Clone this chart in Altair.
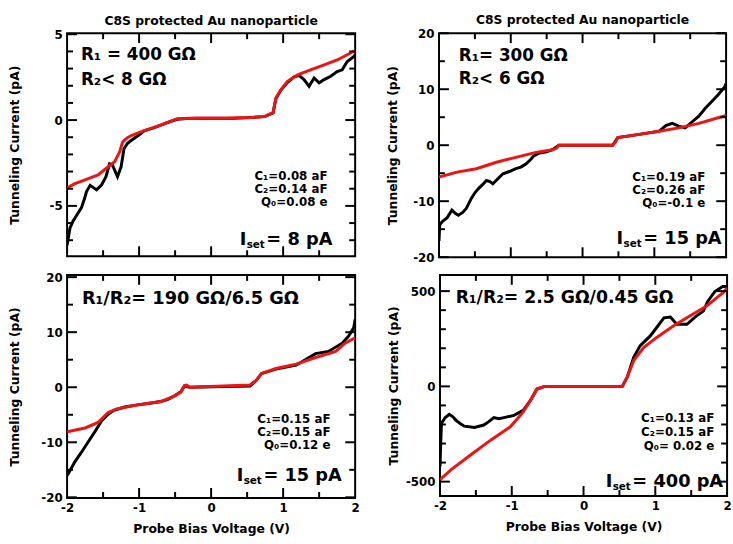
import altair as alt
import pandas as pd

TITLE = "C8S protected Au nanoparticle"
Y_TITLE = "Tunneling Current (pA)"
X_TITLE = "Probe Bias Voltage (V)"
X_LABELS = [-2, -1, 0, 1, 2]
X_MINOR = [-1.5, -0.5, 0.5, 1.5]

# ---------------- panel 1 ----------------
p1_black_v = [-2.00, -1.98, -1.96, -1.92, -1.86, -1.80, -1.76, -1.73, -1.68, -1.63, -1.59, -1.52, -1.46,
              -1.41, -1.37, -1.33, -1.30, -1.25, -1.21, -1.16, -1.11, -0.98, -0.93, -0.80, -0.70, -0.58,
              -0.47, -0.30, 0.00, 0.30, 0.56, 0.74, 0.86, 0.90, 0.97, 1.06, 1.15, 1.22, 1.29, 1.36, 1.43,
              1.50, 1.57, 1.66, 1.75, 1.82, 1.89, 1.98, 2.00]
p1_black_i = [-7.3, -6.8, -6.3, -5.9, -5.5, -5.1, -4.6, -4.16, -3.8, -3.95, -4.06, -3.77, -3.3,
              -2.55, -2.62, -3.0, -3.3, -2.72, -1.67, -1.35, -1.19, -0.8, -0.63, -0.45, -0.3, -0.1,
              0.05, 0.1, 0.1, 0.1, 0.15, 0.2, 0.42, 1.25, 1.75, 2.2, 2.5, 2.6, 2.36, 1.97, 2.45,
              2.17, 2.36, 2.55, 2.83, 2.93, 3.41, 3.7, 3.8]
p1_red_v = [-2.00, -1.90, -1.75, -1.57, -1.43, -1.34, -1.30, -1.27, -1.23, -1.17, -1.11, -0.93, -0.70,
            -0.55, -0.47, -0.20, 0.20, 0.56, 0.74, 0.86, 0.90, 0.97, 1.06, 1.20, 1.38, 1.57, 1.75,
            1.93, 2.00]
p1_red_i = [-3.95, -3.72, -3.49, -3.2, -2.72, -2.43, -2.1, -1.86, -1.28, -1.05, -0.9, -0.61, -0.29,
            -0.05, 0.08, 0.12, 0.12, 0.15, 0.21, 0.44, 1.3, 1.78, 2.26, 2.64, 2.93, 3.22, 3.5,
            3.89, 4.05]
p1_y_labels = [-5, 0, 5]
p1_y_minor = [-7, -6, -4, -3, -2, -1, 1, 2, 3, 4]
p1_text = ["R\u2081 = 400 G\u03a9", "R\u2082< 8 G\u03a9"]
p1_caps = ["C\u2081=0.08 aF", "C\u2082=0.14 aF", "Q\u2080=0.08 e"]
p1_iset = "= 8 pA"

# ---------------- panel 2 ----------------
p2_black_v = [-2.00, -1.99, -1.95, -1.89, -1.82, -1.77, -1.73, -1.67, -1.62, -1.55, -1.50, -1.45, -1.39,
              -1.34, -1.29, -1.25, -1.18, -1.11, -1.02, -0.93, -0.86, -0.79, -0.72, -0.68, -0.60, -0.50,
              -0.42, -0.33, 0.00, 0.42, 0.49, 0.79, 1.07, 1.16, 1.25, 1.34, 1.43, 1.52, 1.62, 1.71,
              1.80, 1.89, 1.98, 2.00]
p2_black_i = [-17.1, -14.2, -13.6, -13.0, -11.6, -12.2, -12.5, -12.0, -11.3, -9.5, -8.5, -7.75, -7.0,
              -6.3, -6.5, -6.9, -6.0, -5.1, -4.7, -4.2, -3.9, -3.35, -2.5, -1.9, -1.4, -1.2,
              -0.8, 0.0, 0.0, 0.0, 1.35, 1.94, 2.5, 3.5, 3.9, 3.4, 3.1, 4.1, 5.2, 6.6,
              7.8, 9.0, 10.4, 11.0]
p2_red_v = [-2.00, -1.75, -1.48, -1.20, -0.93, -0.65, -0.42, -0.36, -0.33, 0.42, 0.46, 0.49, 0.79,
            1.07, 1.34, 1.62, 1.89, 2.00]
p2_red_i = [-5.7, -4.8, -4.2, -3.05, -2.17, -1.29, -0.82, -0.5, 0.0, 0.0, 0.6, 1.35, 1.94,
            2.5, 3.1, 3.9, 4.9, 5.3]
p2_y_labels = [-20, -10, 0, 10, 20]
p2_y_minor = [-15, -5, 5, 15]
p2_text = ["R\u2081= 300 G\u03a9", "R\u2082< 6 G\u03a9"]
p2_caps = ["C\u2081=0.19 aF", "C\u2082=0.26 aF", "Q\u2080=-0.1 e"]
p2_iset = "= 15 pA"

# ---------------- panel 3 ----------------
p3_black_v = [-2.00, -1.98, -1.89, -1.80, -1.71, -1.62, -1.52, -1.43, -1.35, -1.20, -1.02, -0.85, -0.70,
              -0.60, -0.50, -0.42, -0.37, -0.30, 0.54, 0.63, 0.70, 0.90, 1.18, 1.45, 1.63, 1.82,
              1.91, 1.98, 2.00]
p3_black_i = [-16.0, -15.6, -13.5, -11.8, -10.0, -8.2, -6.1, -4.9, -4.2, -3.6, -3.2, -2.9, -2.6,
              -2.2, -1.5, -0.8, 0.2, 0.0, 0.2, 1.3, 2.5, 3.3, 4.0, 6.1, 6.5, 8.0,
              9.3, 10.8, 12.3]
p3_red_v = [-2.00, -1.75, -1.57, -1.43, -1.30, -1.02, -0.70, -0.51, -0.42, -0.37, -0.34, -0.30, 0.54,
            0.63, 0.70, 0.90, 1.18, 1.45, 1.73, 1.86, 2.00]
p3_red_i = [-8.1, -7.4, -6.4, -4.6, -3.9, -3.2, -2.6, -1.6, -0.9, 0.3, 0.4, 0.0, 0.4,
            1.3, 2.5, 3.4, 4.2, 5.4, 6.5, 8.0, 9.0]
p3_y_labels = [-20, -10, 0, 10, 20]
p3_y_minor = [-15, -5, 5, 15]
p3_text = ["R\u2081/R\u2082= 190 G\u03a9/6.5 G\u03a9"]
p3_caps = ["C\u2081=0.15 aF", "C\u2082=0.15 aF", "Q\u2080=0.12 e"]
p3_iset = "= 15 pA"

# ---------------- panel 4 ----------------
p4_black_v = [-2.00, -1.99, -1.98, -1.93, -1.87, -1.82, -1.78, -1.72, -1.66, -1.52, -1.39, -1.32, -1.25,
              -1.18, -1.11, -0.97, -0.84, -0.74, -0.65, -0.54, 0.54, 0.61, 0.70, 0.79, 0.93, 1.02,
              1.12, 1.21, 1.30, 1.44, 1.57, 1.67, 1.73, 1.83, 1.94, 2.00]
p4_black_i = [-420, -300, -195, -165, -147, -160, -177, -195, -209, -216, -203, -185, -164,
              -170, -164, -152, -126, -74, -14, 0, 0, 50, 154, 214, 265, 309,
              360, 364, 326, 326, 369, 395, 446, 498, 524, 524]
p4_red_v = [-2.00, -1.84, -1.57, -1.29, -1.02, -0.84, -0.74, -0.65, -0.54, 0.54, 0.61, 0.70, 0.84,
            1.02, 1.25, 1.48, 1.71, 1.94, 2.00]
p4_red_i = [-490, -436, -359, -281, -212, -134, -74, -14, 0, 0, 50, 136, 205,
            257, 317, 369, 421, 490, 516]
p4_y_labels = [-500, 0, 500]
p4_y_minor = [-400, -300, -200, -100, 100, 200, 300, 400]
p4_text = ["R\u2081/R\u2082= 2.5 G\u03a9/0.45 G\u03a9"]
p4_caps = ["C\u2081=0.13 aF", "C\u2082=0.15 aF", "Q\u2080= 0.02 e"]
p4_iset = "= 400 pA"

FONT = "DejaVu Sans"
RED = "#ee1414"
MAJ, MIN = 10, 6


def txt(s, x, y, size, align="left"):
    return alt.Chart(pd.DataFrame({"s": [s]})).mark_text(
        font=FONT, fontWeight="bold", fontSize=size, align=align, baseline="middle", color="black"
    ).encode(text="s:N", x=alt.value(x), y=alt.value(y))


def panel(bv, bi, rv, ri, ydom, ymaj, ymin, texts, caps, iset, W, H, bottom, yext, ypad, pos):
    xs = alt.Scale(domain=[-2, 2], nice=False, zero=False)
    ys = alt.Scale(domain=ydom, nice=False, zero=False)
    if bottom:
        xaxis = alt.Axis(values=X_LABELS, labelExpr="toString(datum.value)", labelFont=FONT,
                         labelFontSize=12, labelFontWeight="bold", labelPadding=5, labelFlush=False,
                         ticks=False, tickSize=0, domain=False, grid=False, title=X_TITLE,
                         titleFont=FONT, titleFontSize=12.5, titleFontWeight="bold", titlePadding=9,
                         labelColor="black", titleColor="black")
    else:
        xaxis = alt.Axis(labels=False, ticks=False, tickSize=0, domain=False, grid=False, title=None)
    yaxis = alt.Axis(values=ymaj, labelExpr="toString(datum.value)", labelFont=FONT, labelFontSize=12,
                     labelFontWeight="bold", labelPadding=5, labelOverlap=False, ticks=False, tickSize=0,
                     domain=False, grid=False, title=Y_TITLE, titleFont=FONT, titleFontSize=12.5,
                     titleFontWeight="bold", titlePadding=ypad, minExtent=yext, maxExtent=yext,
                     labelColor="black", titleColor="black")
    X = lambda f: alt.X(f, scale=xs, axis=xaxis, title=(X_TITLE if bottom else None))
    Y = lambda f: alt.Y(f, scale=ys, axis=yaxis, title=Y_TITLE)
    db = pd.DataFrame({"v": bv, "i": bi, "k": list(range(len(bv)))})
    dr = pd.DataFrame({"v": rv, "i": ri, "k": list(range(len(rv)))})

    # inward tick marks on all four edges, each a short two-point segment
    y0, y1 = ydom
    ysp = (y1 - y0) / H
    xsp = 4.0 / W
    tv, ti, tg, tk = [], [], [], []
    g = 0
    for vals, L in ((X_LABELS[1:-1], MAJ), (X_MINOR, MIN)):
        for a, b in ((y0, y0 + L * ysp), (y1, y1 - L * ysp)):
            for t in vals:
                tv += [t, t]; ti += [a, b]; tg += [g, g]; tk += [0, 1]; g += 1
    for vals, L in ((ymaj, MAJ), (ymin, MIN)):
        for a, b in ((-2.0, -2.0 + L * xsp), (2.0, 2.0 - L * xsp)):
            for t in vals:
                tv += [a, b]; ti += [t, t]; tg += [g, g]; tk += [0, 1]; g += 1
    dt = pd.DataFrame({"v": tv, "i": ti, "g": tg, "k": tk})
    ticks = alt.Chart(dt).mark_line(color="black", strokeWidth=2).encode(
        x=X("v:Q"), y=Y("i:Q"), detail="g:N", order="k:Q")

    black = alt.Chart(db).mark_line(color="black", strokeWidth=3, clip=True).encode(
        x=X("v:Q"), y=Y("i:Q"), order="k:Q")
    red = alt.Chart(dr).mark_line(color=RED, strokeWidth=3, clip=True).encode(
        x=X("v:Q"), y=Y("i:Q"), order="k:Q")
    layers = [black, red, ticks]

    # annotations
    tx, ty, tdy, tsz = pos["t"]
    for n, s in enumerate(texts):
        layers.append(txt(s, tx, ty + n * tdy, tsz))
    cx, cy, cdy = pos["c"]
    for n, s in enumerate(caps):
        layers.append(txt(s, cx, cy + n * cdy, 12, align="right"))
    ix, iy = pos["i"]
    layers.append(txt("I", ix, iy, 18))
    layers.append(txt("set", ix + 7, iy + 5, 10.5))
    layers.append(txt(iset, ix + 27, iy, 18))
    return alt.layer(*layers).properties(width=W, height=H)


ttl = alt.TitleParams(TITLE, font=FONT, fontSize=12.5, fontWeight="bold", offset=1, anchor="middle", color="black")
p1 = panel(p1_black_v, p1_black_i, p1_red_v, p1_red_i, [-7.93, 5.06], p1_y_labels, p1_y_minor,
           p1_text, p1_caps, p1_iset, 292, 226, False, 30, 16,
           {"t": (14, 22, 25, 17), "c": (264, 145, 13), "i": (175, 210)}).properties(title=ttl)
p2 = panel(p2_black_v, p2_black_i, p2_red_v, p2_red_i, [-20, 20], p2_y_labels, p2_y_minor,
           p2_text, p2_caps, p2_iset, 291, 227, False, 34, 6,
           {"t": (20, 23, 23, 17), "c": (270, 146, 13), "i": (180, 209)}).properties(title=ttl)
p3 = panel(p3_black_v, p3_black_i, p3_red_v, p3_red_i, [-20.1, 20.4], p3_y_labels, p3_y_minor,
           p3_text, p3_caps, p3_iset, 292, 226, True, 30, 16,
           {"t": (15, 24, 0, 18), "c": (267, 146, 13), "i": (172, 204)})
p4 = panel(p4_black_v, p4_black_i, p4_red_v, p4_red_i, [-575, 585], p4_y_labels, p4_y_minor,
           p4_text, p4_caps, p4_iset, 291, 224, True, 34, 6,
           {"t": (16, 23, 0, 17.5), "c": (278, 145, 14), "i": (168, 210)})

top = alt.hconcat(p1, p2, spacing=26)
bot = alt.hconcat(p3, p4, spacing=26)
chart = alt.vconcat(top, bot, spacing=6).configure(
    padding={"left": 8, "top": 9, "right": 0, "bottom": 0}, background="white"
).configure_view(stroke="black", strokeWidth=2)

chart.save("out.html", embed_options={"renderer": "svg", "actions": False})
